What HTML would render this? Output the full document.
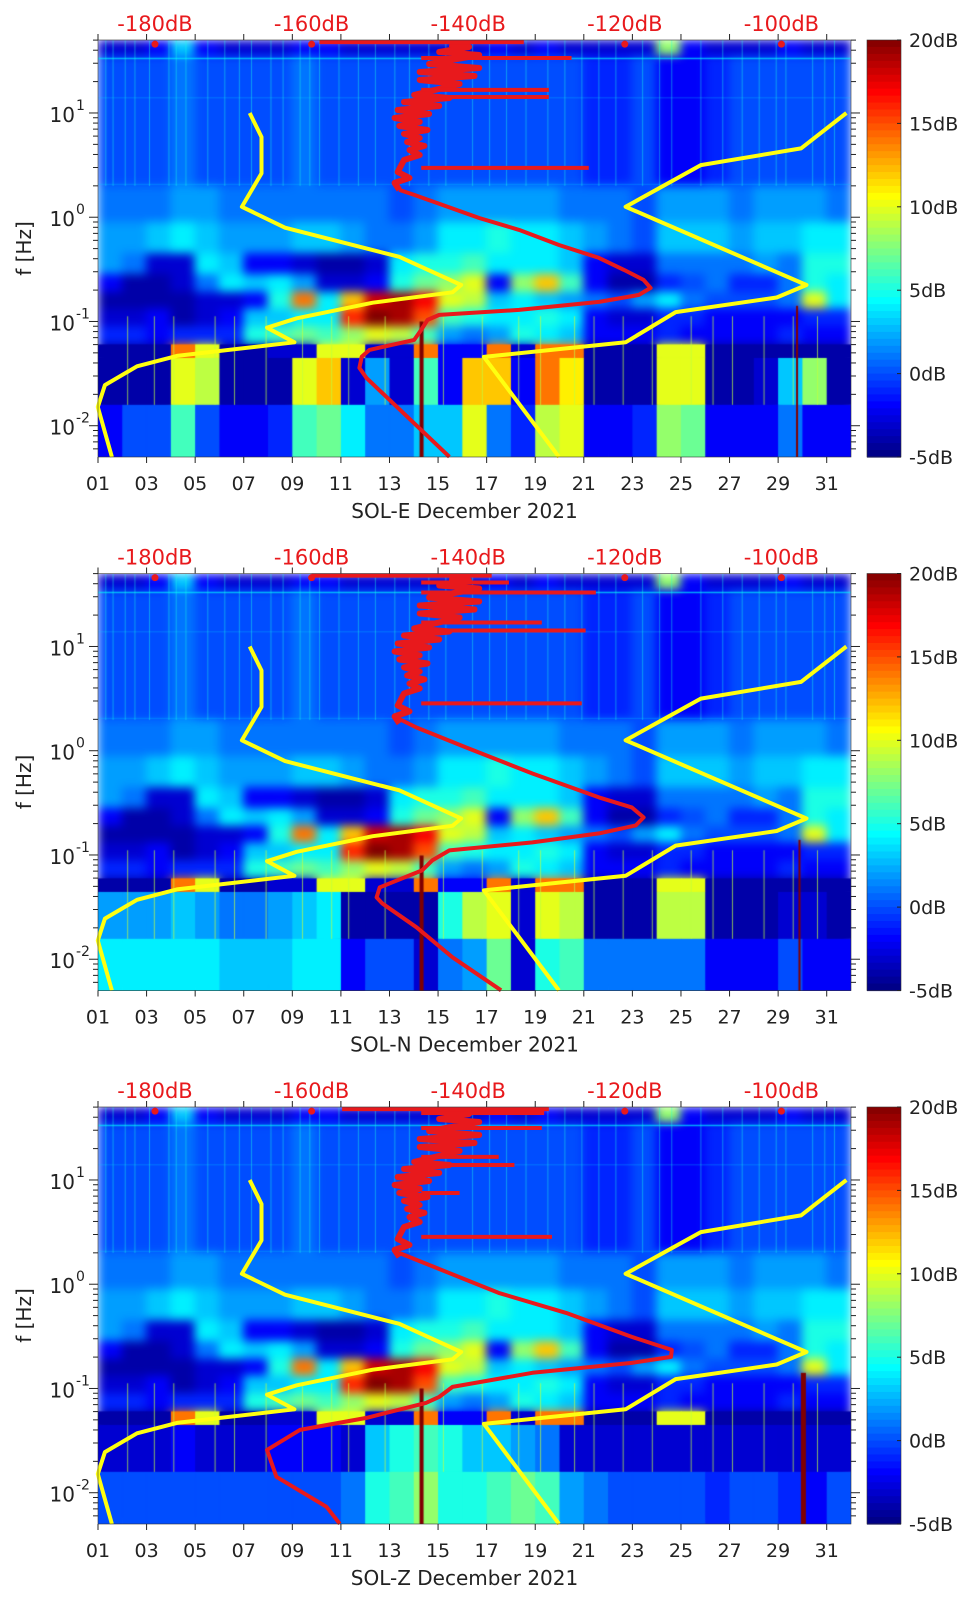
<!DOCTYPE html>
<html><head><meta charset="utf-8">
<style>
html,body{margin:0;padding:0;background:#fff;}
body{width:962px;height:1599px;position:relative;overflow:hidden;font-family:"DejaVu Sans","Liberation Sans",sans-serif;}
canvas{position:absolute;}
svg{position:absolute;left:0;top:0;}
</style></head>
<body>
<svg id="fig" width="962" height="1599"></svg>
<script>
// ---------- data ----------
const panelNames = ["SOL-E December 2021","SOL-N December 2021","SOL-Z December 2021"];
const rowEdges = [1.7,1.55,0.3,-0.05,-0.35,-0.55,-0.72,-0.88,-1.05,-1.22,-1.35,-1.8,-2.3];
const row0 = [-3,-3,-2,3,-2,-3,-3,-3,-2,-2,-3,-3,-3,-3,-3,-3,-2,-3,-2,-3,-3,-3,-3,8,-2,-3,-3,-3,-2,-3,-3];
const row1 = [0,0,0,1,0,0,0,0,1,0,0,0,0,0,0,0,0,0,0,0,-1,-1,0,-2,-2,-1,0,0,0,0,0];
const row2 = [1,1,1,2,2,1,1,1,1,1,1,1,0,1,2,2,2,2,2,1,1,1,0,2,2,2,1,2,2,2,1];
const row3 = [2,2,3,4,3,2,2,2,3,3,2,1,1,2,4,4,5,4,4,3,2,1,0,3,3,3,2,3,3,4,4];
const row4 = [2,1,-3,-3,4,3,-2,-2,-3,-4,-4,-3,4,5,5,6,4,4,4,3,-2,-3,-3,1,1,1,1,2,1,5,5];
const row5 = [-2,-4,-4,-3,1,4,3,4,2,-3,-3,-2,5,7,8,10,-2,8,12,6,-2,-4,-4,-1,0,1,-1,-1,1,5,4];
const row6 = [-4,-4,-4,-4,-3,-3,-2,5,14,4,12,18,19,17,10,9,3,4,3,2,1,0,2,4,1,0,0,0,1,10,4];
const row7 = [-3,-3,-2,-4,-3,-2,3,3,4,4,16,20,19,15,6,5,4,4,5,4,-2,-3,-3,-1,-1,-2,-2,-2,-2,-1,-1];
const row8 = [-1,-1,-2,-1,-1,-1,5,6,7,6,8,10,9,6,2,1,2,5,4,3,-2,-2,-2,-1,-2,-2,-2,-2,-1,-2,-2];
const row9 = [-4,-4,-4,14,10,-4,-4,-3,-3,10,10,-3,-3,14,-2,-2,14,-3,14,14,-4,-4,-4,10,10,-4,-4,-4,-4,-4,-4];
const row10E = [-4,-4,-4,10,9,-4,-4,-4,10,12,-3,2,-3,6,-2,12,12,-2,14,11,-4,-4,-4,10,10,-4,-4,-3,3,8,-4];
const row11E = [-2,0,0,6,0,-2,-2,-1,6,7,4,1,1,3,3,10,1,-1,9,10,-2,-2,-1,8,7,-2,-2,-2,1,-2,-2];
const row10N = [2,2,2,3,2,1,1,2,3,4,-4,-4,-4,-4,5,9,10,-3,10,9,-4,-4,-4,9,9,-4,-4,-4,-3,-3,-4];
const row11N = [4,4,4,4,4,3,3,3,4,4,-2,0,0,-3,1,2,7,-3,5,6,1,1,1,1,1,-2,-2,-2,0,-2,-2];
const row10Z = [-3,-3,-3,-2,-3,-3,-3,-2,-2,-2,-3,3,5,6,5,3,3,2,1,-3,-3,-3,-3,-3,-3,-3,-3,-3,-3,-3,-3];
const row11Z = [0,0,0,0,0,0,0,0,0,0,1,5,6,8,5,5,6,7,6,2,1,0,0,0,0,-1,0,0,-1,-2,0];
const streakDays = [1.3,1.6,2.1,2.5,3.1,3.9,4.2,4.6,5.5,6.2,6.8,7.3,8.1,8.6,9.3,9.7,10.1,10.9,11.7,12.4,13.2,13.8,14.6,15.3,16.4,17.1,17.8,18.6,19.5,20.2,20.9,21.6,22.3,23.4,24.1,24.6,25.8,26.7,27.5,28.2,28.9,29.3,30.4,30.9,31.3];
const lowStreakDays = [2.2,3.3,4.1,5.8,6.6,7.9,9.4,10.6,11.3,12.8,15.2,16.8,18.3,19.2,20.6,21.4,22.6,23.8,25.4,26.3,27.1,28.4,29.6,30.6];
const eventDaysE = [14.3,29.8];
const eventDaysN = [14.3,29.9];
const eventDaysZ = [14.3,30.0];
// yellow noise models (dB, log10 f)
const nlnmDb = [-167.9,-166.4,-166.4,-168.9,-163.4,-148.8,-140.9,-142.0,-152.2,-161.9,-165.7,-162.2,-177.2,-182.3,-186.4,-187.3,-185.5];
const nlnmLf = [1.0,0.77,0.42,0.10,-0.10,-0.38,-0.65,-0.72,-0.82,-0.97,-1.06,-1.20,-1.33,-1.43,-1.61,-1.82,-2.30];
const nhnmDb = [-91.7,-97.5,-110.3,-119.9,-96.8,-100.6,-113.5,-119.9,-138.0,-128.4];
const nhnmLf = [1.0,0.66,0.50,0.10,-0.65,-0.77,-0.91,-1.20,-1.34,-2.30];
// red PSD high-frequency part (shared)
const hfDb = [-148.8,-149.4,-147.5,-149.0,-148.2,-146.2,-147.5,-145.6,-147.8,-146.2,-148.2,-145.2,-148.8,-146.2,-149.4,-145.0,-149.0,-143.7,-148.2,-142.4,-146.9,-141.1,-146.2,-139.2,-146.2,-138.6,-145.0,-138.6,-143.7,-139.9,-142.4];
const hfLf = [0.262,0.329,0.377,0.434,0.549,0.597,0.645,0.684,0.722,0.760,0.799,0.837,0.875,0.914,0.952,0.990,1.029,1.067,1.105,1.144,1.173,1.278,1.316,1.355,1.393,1.431,1.470,1.556,1.585,1.633,1.662];
// red PSD low-frequency parts
const lfDbE = [-148.8,-146.9,-138.6,-133.5,-128.4,-123.3,-120.1,-117.6,-116.7,-118.2,-123.3,-133.5,-143.7,-145.2,-146.0,-146.9,-152.6,-153.6,-153.9,-153.0,-142.4];
const lfLfE = [0.262,0.214,-0.007,-0.122,-0.266,-0.390,-0.505,-0.601,-0.678,-0.745,-0.812,-0.889,-0.937,-0.985,-1.081,-1.177,-1.273,-1.339,-1.445,-1.541,-2.298];
const lfDbN = [-149.2,-146.6,-140.3,-131.8,-123.3,-119.1,-117.6,-118.6,-123.3,-131.8,-142.4,-144.6,-145.9,-151.3,-151.7,-151.0,-146.6,-142.0,-135.8];
const lfLfN = [0.319,0.223,0.032,-0.218,-0.448,-0.544,-0.640,-0.716,-0.793,-0.879,-0.956,-1.052,-1.148,-1.311,-1.407,-1.464,-1.694,-1.982,-2.298];
const lfDbZ = [-148.8,-146.6,-136.1,-127.5,-119.1,-114.0,-114.1,-119.1,-131.8,-142.0,-143.7,-145.4,-153.0,-161.5,-165.7,-164.5,-158.1,-156.4];
const lfLfZ = [0.300,0.233,-0.083,-0.275,-0.505,-0.630,-0.697,-0.755,-0.850,-0.985,-1.081,-1.138,-1.282,-1.397,-1.589,-1.847,-2.135,-2.298];
// spikes (log f, dB end) and top horizontal segment
const spikeLfE = [1.527,1.221,1.153,0.473];
const spikeDbE = [-126.8,-129.7,-129.7,-124.6];
const spikeLfN = [1.614,1.518,1.230,1.153,0.454];
const spikeDbN = [-134.8,-123.7,-130.6,-125.0,-125.5];
const spikeLfZ = [1.643,1.499,1.221,1.144,0.875,0.454];
const spikeDbZ = [-130.3,-130.6,-136.1,-134.1,-141.1,-129.3];
const topSegE = [-159.0,-132.9];
const topSegN = [-160.0,-137.0];
const topSegZ = [-156.1,-129.7];
const dotDb = [-180,-160,-120,-100];
const dbTicks = [-180,-160,-140,-120,-100];
const dayTicks = [1,3,5,7,9,11,13,15,17,19,21,23,25,27,29,31];
const decadeTicks = [1,0,-1,-2];
const cbTicks = [20,15,10,5,0,-5];

const panels = [
 {rows10:row10E,rows11:row11E,events:eventDaysE,lfDb:lfDbE,lfLf:lfLfE,spLf:spikeLfE,spDb:spikeDbE,top:topSegE},
 {rows10:row10N,rows11:row11N,events:eventDaysN,lfDb:lfDbN,lfLf:lfLfN,spLf:spikeLfN,spDb:spikeDbN,top:topSegN},
 {rows10:row10Z,rows11:row11Z,events:eventDaysZ,lfDb:lfDbZ,lfLf:lfLfZ,spLf:spikeLfZ,spDb:spikeDbZ,top:topSegZ}
];
const offsets = [0,533.5,1067];

// ---------- axes ----------
const X0=98, X1=851, PY0=40, PY1=457;
const xDay = d => X0 + (d-1)*(X1-X0)/31;
const yLf = lf => PY0 + (1.7-lf)/4*(PY1-PY0);
const xDb = db => 155 + (db+180)*7.83;
const CBX=867, CBW=34;
const yCb = v => PY0 + (20-v)/25*(PY1-PY0);

function jet(v,a){
  const t=Math.max(0,Math.min(1,(v+5)/25));
  const c=x=>Math.round(255*Math.max(0,Math.min(1,1.5-Math.abs(x))));
  return a===undefined?`rgb(${c(4*t-3)},${c(4*t-2)},${c(4*t-1)})`:`rgba(${c(4*t-3)},${c(4*t-2)},${c(4*t-1)},${a})`;
}
const NS="http://www.w3.org/2000/svg";
const svg=document.getElementById('fig');
function mk(tag,attrs,parent){const e=document.createElementNS(NS,tag);for(const k in attrs)e.setAttribute(k,attrs[k]);(parent||svg).appendChild(e);return e;}
function pathFrom(dbs,lfs,oy){return dbs.map((d,i)=>(i?'L':'M')+xDb(d).toFixed(1)+','+(yLf(lfs[i])+oy).toFixed(1)).join(' ');}

panels.forEach((p,pi)=>{
  const oy=offsets[pi];
  const grid=[row0,row1,row2,row3,row4,row5,row6,row7,row8,row9,p.rows10,p.rows11];
  const cv=document.createElement('canvas');
  cv.width=X1-X0; cv.height=PY1-PY0;
  cv.style.left=X0+'px'; cv.style.top=(PY0+oy)+'px';
  
  
  document.body.insertBefore(cv,svg);
  const off=document.createElement('canvas'); off.width=cv.width; off.height=cv.height;
  const o=off.getContext('2d');
  grid.forEach((row,ri)=>{
    const ya=yLf(rowEdges[ri])-PY0, yb=yLf(rowEdges[ri+1])-PY0;
    row.forEach((v,di)=>{
      o.fillStyle=jet(v);
      const xa=xDay(di+1)-X0, xb=xDay(di+2)-X0;
      o.fillRect(xa-0.5,ya-0.5,xb-xa+1,yb-ya+1);
    });
  });
  const ctx=cv.getContext('2d');
  ctx.filter='blur(5px)';
  ctx.drawImage(off,0,0);
  ctx.filter='none';
  for(let ri=9;ri<12;ri++){
    const ya=yLf(rowEdges[ri])-PY0, yb=yLf(rowEdges[ri+1])-PY0;
    grid[ri].forEach((v,di)=>{ctx.fillStyle=jet(v);const xa=xDay(di+1)-X0,xb=xDay(di+2)-X0;ctx.fillRect(xa,ya,xb-xa+0.6,yb-ya);});
  }
  // horizontal lines in HF band
  ctx.fillStyle=jet(4,0.7); ctx.fillRect(0,yLf(1.53)-PY0,cv.width,1.5);
  ctx.fillStyle=jet(3,0.35); ctx.fillRect(0,yLf(1.15)-PY0,cv.width,1);
  ctx.fillStyle=jet(3,0.35); ctx.fillRect(0,yLf(0.32)-PY0,cv.width,1);
  // streaks
  streakDays.forEach(d=>{ctx.fillStyle=jet(5,0.45);ctx.fillRect(xDay(d)-X0,0,1,yLf(0.3)-PY0);});
  lowStreakDays.forEach(d=>{ctx.fillStyle=jet(9,0.7);const ya=yLf(-0.95)-PY0;ctx.fillRect(xDay(d)-X0,ya,1,yLf(-1.8)-PY0-ya);});
  p.events.forEach((d,k)=>{ctx.fillStyle=jet(20);const ya=yLf(k===0?-1.0:-0.85)-PY0;ctx.fillRect(xDay(d)-X0-1.5,ya,k===0?4:(pi===2?5:2),cv.height-ya);});

  const g=mk('g',{});
  mk('path',{d:pathFrom(nlnmDb,nlnmLf,oy),fill:'none',stroke:'#ffff10',"stroke-width":4,"stroke-linejoin":'round',},g);
  mk('path',{d:pathFrom(nhnmDb,nhnmLf,oy),fill:'none',stroke:'#ffff10',"stroke-width":4,"stroke-linejoin":'round',},g);
  const red='#e8191c';
  mk('path',{d:pathFrom(p.lfDb,p.lfLf,oy),fill:'none',stroke:red,"stroke-width":4,"stroke-linejoin":'round',},g);
  mk('path',{d:pathFrom(hfDb,hfLf,oy),fill:'none',stroke:red,"stroke-width":6,"stroke-linejoin":'round',},g);
  p.spLf.forEach((lf,i)=>{
    const s=mk('line',{x1:xDb(-146),x2:xDb(p.spDb[i]),y1:yLf(lf)+oy,y2:yLf(lf)+oy,stroke:red,"stroke-width":4},g);
    
    
  });
  mk('line',{x1:xDb(p.top[0]),x2:xDb(p.top[1]),y1:yLf(1.68)+oy,y2:yLf(1.68)+oy,stroke:red,"stroke-width":4,},g);
  dotDb.forEach(d=>{
    const c=mk('circle',{cx:xDb(d),cy:yLf(1.66)+oy,r:3.5,fill:red},g);
    
    
  });
  mk('rect',{x:X0,y:PY0+oy,width:X1-X0,height:PY1-PY0,fill:'none',stroke:'#333',"stroke-width":0.6,},g);
  dayTicks.forEach(d=>{
    const x=xDay(d);
    mk('line',{x1:x,x2:x,y1:PY1+oy,y2:PY1+oy+6,stroke:'#222',"stroke-width":1},g);
    mk('line',{x1:x,x2:x,y1:PY0+oy,y2:PY0+oy-6,stroke:'#222',"stroke-width":1},g);
    const t=mk('text',{x:x,y:PY1+oy+33,"font-size":19,fill:'#222',"text-anchor":'middle'},g);
    t.textContent=(d<10?'0':'')+d;
    
    
  });
  dbTicks.forEach(d=>{
    const t=mk('text',{x:xDb(d),y:PY0+oy-9,"font-size":21,fill:'#e8191c',"text-anchor":'middle'},g);
    t.textContent=d+'dB';
    
    
  });
  for(let k=-3;k<=1;k++){
    for(let m=1;m<=9;m++){
      const lf=k+Math.log10(m);
      if(lf>1.7||lf<-2.3) continue;
      const y=yLf(lf)+oy, L=m===1?9:5;
      mk('line',{x1:X0-L,x2:X0,y1:y,y2:y,stroke:'#222',"stroke-width":1},g);
      mk('line',{x1:X1,x2:X1+L,y1:y,y2:y,stroke:'#222',"stroke-width":1},g);
    }
  }
  decadeTicks.forEach(k=>{
    const t=mk('text',{x:75,y:yLf(k)+oy+9,"font-size":20,fill:'#222',"text-anchor":'end'},g);
    t.textContent='10';
    
    
    const s=mk('text',{x:76,y:yLf(k)+oy-3,"font-size":14,fill:'#222'},g);
    s.textContent=String(k);
  });
  const yl=mk('text',{x:0,y:0,"font-size":20,fill:'#222',"text-anchor":'middle',transform:`translate(31,${(PY0+PY1)/2+oy}) rotate(-90)`,},g);
  yl.textContent='f [Hz]';
  const xl=mk('text',{x:(X0+X1)/2-10,y:PY1+oy+61,"font-size":20,fill:'#222',"text-anchor":'middle',},g);
  xl.textContent=panelNames[pi];
  const cb=mk('g',{},g);
  const N=60;
  for(let i=0;i<N;i++){
    const v=20-25*(i+0.5)/N;
    mk('rect',{x:CBX,y:yCb(20-25*i/N)+oy,width:CBW,height:(PY1-PY0)/N+0.6,fill:jet(v)},cb);
  }
  mk('rect',{x:CBX,y:PY0+oy,width:CBW,height:PY1-PY0,fill:'none',stroke:'#333',"stroke-width":0.6},cb);
  cbTicks.forEach(v=>{
    const y=yCb(v)+oy;
    mk('line',{x1:CBX+CBW-4,x2:CBX+CBW,y1:y,y2:y,stroke:'#222'},cb);
    const t=mk('text',{x:CBX+42,y:y+7,"font-size":19,fill:'#222'},cb);
    t.textContent=v+'dB';
    
    
  });
});
</script>
</body></html>
